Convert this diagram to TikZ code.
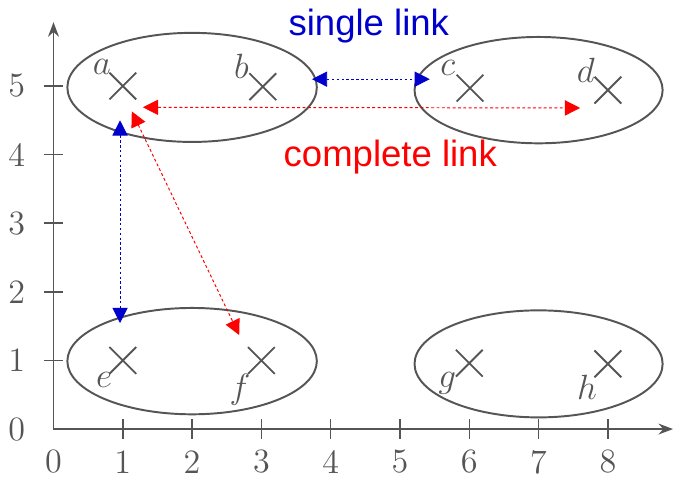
\documentclass[tikz,border=0pt]{standalone}
\usepackage{fontspec}
\newfontfamily\arialfont{Liberation Sans}
\usetikzlibrary{arrows.meta,shapes.misc}
\definecolor{inkgray}{HTML}{555555}
\definecolor{sblue}{RGB}{0,0,205}
\definecolor{cred}{RGB}{255,0,0}
\begin{document}
\begin{tikzpicture}[x=1cm,y=0.99cm,
  axis/.style={draw=inkgray,line width=0.65pt},
  tickmark/.style={draw=inkgray,line width=0.65pt},
  ticklab/.style={text=inkgray,font=\fontsize{14}{16}\selectfont,inner sep=0pt},
  cluster/.style={draw=inkgray,line width=0.8pt},
  pt/.style={cross out,draw=inkgray,line width=0.75pt,minimum size=0.36cm,inner sep=0pt},
  ptlab/.style={text=inkgray,font=\fontsize{15}{17}\selectfont,inner sep=0pt},
  slink/.style={sblue,line width=0.4pt,dash pattern=on 1pt off 1pt,{Triangle[length=0.22cm,width=0.22cm]}-{Triangle[length=0.22cm,width=0.22cm]}},
  clink/.style={cred,line width=0.4pt,dash pattern=on 1.2pt off 1pt,{Triangle[length=0.22cm,width=0.22cm]}-{Triangle[length=0.22cm,width=0.22cm]}},
  linklab/.style={font=\arialfont\fontsize{15}{17}\selectfont,inner sep=0pt,anchor=base}
]
\useasboundingbox (-0.772,-0.787) rectangle (8.954,6.254);
% axes
\coordinate (O) at (0,0);
\coordinate (xend) at (8.94,0);
\coordinate (yend) at (0,5.93);
\draw[axis,-{Stealth[length=6pt,width=4.5pt,inset=2pt]}] (O) -- (xend);
\draw[axis,-{Stealth[length=6pt,width=4.5pt,inset=2pt]}] (O) -- (yend);
\foreach \i in {1,...,8} \draw[tickmark] (\i,-0.14) -- (\i,0.14);
\foreach \j in {1,...,5} \draw[tickmark] (-0.14,\j) -- (0.14,\j);
\foreach \i in {0,...,8} \node[ticklab] (xl\i) at (\i,-0.48) {\i};
\foreach \j in {0,...,5} \node[ticklab] (yl\j) at (-0.53,\j) {\j};
% clusters
\draw[cluster] (2,4.98) ellipse [x radius=1.8,y radius=0.795];
\draw[cluster] (7,4.94) ellipse [x radius=1.79,y radius=0.775];
\draw[cluster] (2,0.99) ellipse [x radius=1.8,y radius=0.775];
\draw[cluster] (7,0.95) ellipse [x radius=1.79,y radius=0.78];
% points
\node[pt] (a) at (1,5) {};
\node[pt] (b) at (3.02,4.99) {};
\node[pt] (c) at (6.01,4.97) {};
\node[pt] (d) at (8,4.94) {};
\node[pt] (e) at (1,1) {};
\node[pt] (f) at (3,1) {};
\node[pt] (g) at (6,0.96) {};
\node[pt] (h) at (8,0.95) {};
\node[ptlab] (la) at (0.70,5.28) {$a$};
\node[ptlab] (lb) at (2.71,5.28) {$b$};
\node[ptlab] (lc) at (5.69,5.26) {$c$};
\node[ptlab] (ld) at (7.68,5.23) {$d$};
\node[ptlab] (le) at (0.73,0.71) {$e$};
\node[ptlab] (lf) at (2.69,0.57) {$f$};
\node[ptlab] (lg) at (5.68,0.67) {$g$};
\node[ptlab] (lh) at (7.70,0.61) {$h$};
% link end points
\coordinate (s1) at (3.73,5.10);
\coordinate (s2) at (5.43,5.10);
\coordinate (s3) at (0.96,4.50);
\coordinate (s4) at (0.96,1.545);
\coordinate (c1) at (1.29,4.69);
\coordinate (c2) at (7.60,4.68);
\coordinate (c3) at (1.13,4.63);
\coordinate (c4) at (2.68,1.37);
\draw[slink] (s1) -- (s2);
\draw[slink] (s3) -- (s4);
\draw[clink] (c1) -- (c2);
\draw[clink] (c3) -- (c4);
\node[linklab,text=sblue] (single) at (4.55,5.74) {single link};
\node[linklab,text=cred] (complete) at (4.86,3.83) {complete link};
\end{tikzpicture}
\end{document}
